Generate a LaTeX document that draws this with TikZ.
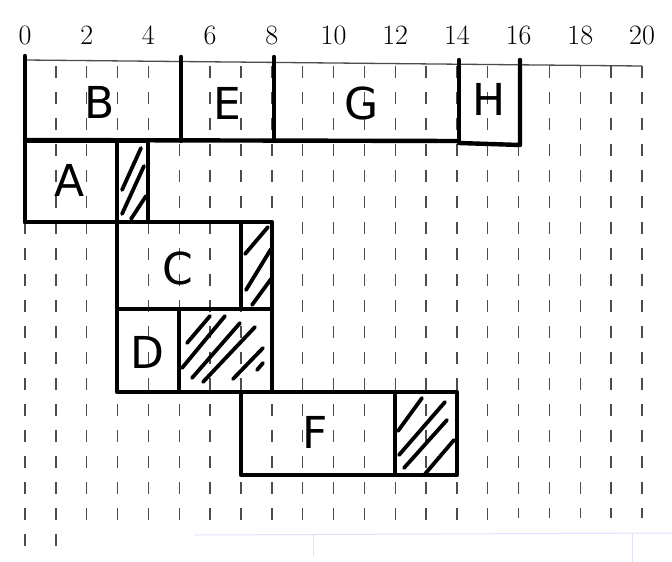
\documentclass[tikz,border=0pt]{standalone}
\usepackage{fontspec}
\newfontfamily\handfont{DejaVu Sans}
\begin{document}
\begin{tikzpicture}[x=1pt,y=-1pt,
  gridline/.style={draw=black!70, line width=1.4pt, dash pattern=on 12pt off 14pt},
  axisline/.style={draw=black!70, line width=1.3pt},
  bar/.style={draw=black, line width=4.4pt, line cap=round, line join=round},
  hatchline/.style={draw=black, line width=3.8pt, line cap=round},
  ticklabel/.style={font=\fontsize{28}{32}\selectfont, inner sep=0pt},
  task/.style={font=\handfont\fontsize{44}{50}\selectfont, inner sep=0pt},
  scanline/.style={draw=blue!12, line width=1pt}]
\useasboundingbox (0,0) rectangle (672,562);
\fill[white] (0,0) rectangle (672,562);

% dashed grid
\foreach \t in {0,...,20}{
  \pgfmathsetmacro\xx{25+30.85*\t}
  \pgfmathsetmacro\ee{\t<2 ? 552 : (\t<16 ? 532 : 518)}
  \draw[gridline] (\xx,66) -- (\xx,\ee);
  \node[ticklabel] (l\t) at (\xx,35) {\ifodd\t\else\t\fi};
}

% faint scan lines
\draw[scanline] (195,535) -- (672,533);
\draw[scanline] (313,535) -- (313,556);
\draw[scanline] (632,533) -- (632,562);

% axis line
\draw[axisline] (25,60) -- (642,66);

% row 1: B E G H
\draw[bar] (25,56) -- (25,222);
\draw[bar] (181,57) -- (181,141);
\draw[bar] (274,57) -- (274,141);
\draw[bar] (459,60) -- (459,141);
\draw[bar] (25,140) -- (459,141);
\draw[bar] (459,143) -- (520,145) -- (520,60);

% row 2: A
\draw[bar] (25,141) rectangle (117,222);
\draw[bar] (117,141) rectangle (148,222);
% row 3: C
\draw[bar] (117,222) rectangle (241,309);
\draw[bar] (241,222) rectangle (272,309);
% row 4: D
\draw[bar] (117,309) rectangle (179,392);
\draw[bar] (179,309) rectangle (272,392);
% row 5: F
\draw[bar] (241,392) rectangle (395,475);
\draw[bar] (395,392) rectangle (457,475);

% hatching
\begin{scope}
  \clip (117,141) rectangle (148,222);
  \draw[hatchline] (122,190) -- (141,148);
  \draw[hatchline] (122,214) -- (144,166);
  \draw[hatchline] (131,219) -- (146,196);
\end{scope}
\begin{scope}
  \clip (241,222) rectangle (272,309);
  \draw[hatchline] (245,254) -- (268,227);
  \draw[hatchline] (246,290) -- (271,249);
  \draw[hatchline] (252,305) -- (271,279);
\end{scope}
\begin{scope}
  \clip (179,309) rectangle (272,392);
  \draw[hatchline] (187,343) -- (210,316);
  \draw[hatchline] (182,368) -- (225,316);
  \draw[hatchline] (192,378) -- (240,323);
  \draw[hatchline] (203,382) -- (255,327);
  \draw[hatchline] (233,379) -- (263,348);
  \draw[hatchline] (257,370) -- (263,363);
\end{scope}
\begin{scope}
  \clip (395,392) rectangle (457,475);
  \draw[hatchline] (398,431) -- (422,398);
  \draw[hatchline] (399,455) -- (445,402);
  \draw[hatchline] (404,468) -- (447,420);
  \draw[hatchline] (425,474) -- (454,440);
\end{scope}

% task labels
\node[task] (tB) at (100,102) {B};
\node[task] (tE) at (227,103) {E};
\node[task] (tG) at (362,103) {G};
\node[task] (tH) at (489,99) {H};
\node[task] (tA) at (70,180) {A};
\node[task] (tC) at (178,268) {C};
\node[task] (tD) at (147,352) {D};
\node[task] (tF) at (315,432) {F};
\end{tikzpicture}
\end{document}
